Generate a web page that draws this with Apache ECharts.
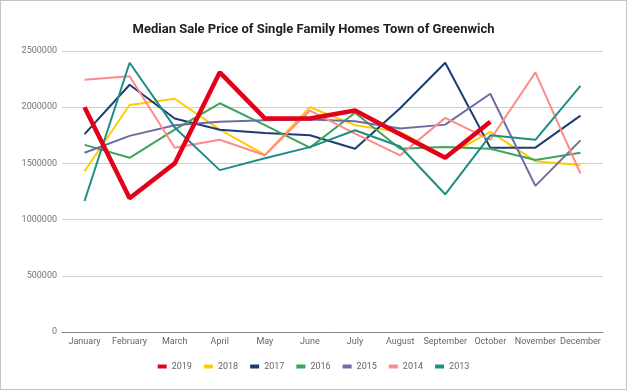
<!DOCTYPE html>
<html><head><meta charset="utf-8">
<script src="https://cdn.jsdelivr.net/npm/echarts@6/dist/echarts.min.js"></script>
<style>html,body{margin:0;padding:0;background:#fff}#c{width:627px;height:390px;box-sizing:border-box;border:1px solid #c4c4c4}</style>
</head><body><div id="c"></div>
<script>
const months = ['January','February','March','April','May','June','July','August','September','October','November','December'];
const y2019 = [2000000,1190000,1500000,2310000,1900000,1900000,1970000,1760000,1550000,1870000,null,null];
const y2018 = [1430000,2020000,2075000,1800000,1575000,2000000,1840000,1780000,1560000,1780000,1520000,1485000];
const y2017 = [1760000,2200000,1900000,1800000,1770000,1750000,1630000,1990000,2395000,1640000,1640000,1925000];
const y2016 = [1665000,1550000,1800000,2035000,1840000,1640000,1950000,1630000,1645000,1630000,1530000,1595000];
const y2015 = [1595000,1745000,1840000,1870000,1885000,1890000,1875000,1810000,1845000,2120000,1300000,1705000];
const y2014 = [2245000,2275000,1640000,1710000,1572000,1970000,1765000,1572000,1905000,1710000,2310000,1410000];
const y2013 = [1165000,2395000,1820000,1440000,1545000,1645000,1795000,1650000,1225000,1750000,1710000,2190000];
const yTicks = [0,500000,1000000,1500000,2000000,2500000];

const seriesDefs = [
  ['2019', y2019, '#E2001A', 4.5],
  ['2018', y2018, '#FFCC00', 2],
  ['2017', y2017, '#1A3E72', 2],
  ['2016', y2016, '#3DA35E', 2],
  ['2015', y2015, '#6E6BA6', 2],
  ['2014', y2014, '#FF8A8C', 2],
  ['2013', y2013, '#1F8C85', 2]
];

const chart = echarts.init(document.getElementById('c'), null, {renderer:'canvas'});
chart.setOption({
  animation:false,
  title:{text:'Median Sale Price of Single Family Homes Town of Greenwich', left:'center', top:17,
    textStyle:{fontFamily:'Roboto', fontWeight:'bold', fontSize:13, color:'#212121'}},
  grid:{left:61, right:23, top:50, bottom:57},
  legend:{top:356, left:'center', itemWidth:9, itemHeight:4, itemGap:12, icon:'rect',
    textStyle:{fontFamily:'Roboto', fontSize:9, color:'#666'},
    data: seriesDefs.map(d=>d[0])},
  xAxis:{type:'category', data:months, boundaryGap:true,
    axisLine:{lineStyle:{color:'#888'}}, axisTick:{show:false},
    axisLabel:{fontFamily:'Roboto', fontSize:9, color:'#666', interval:0, margin:5}},
  yAxis:{type:'value', min:yTicks[0], max:yTicks[yTicks.length-1], interval:500000,
    axisLine:{show:false}, axisTick:{show:false},
    splitLine:{lineStyle:{color:'#cfcfcf', width:1}},
    axisLabel:{fontFamily:'Roboto', fontSize:9, color:'#757575', margin:5, formatter:v=>String(v)}},
  series: seriesDefs.map(d=>({name:d[0], type:'line', data:d[1], symbol:'none',
    lineStyle:{color:d[2], width:d[3]}, itemStyle:{color:d[2]}, z: d[0]==='2019'?3:2, connectNulls:false}))
});
</script></body></html>
